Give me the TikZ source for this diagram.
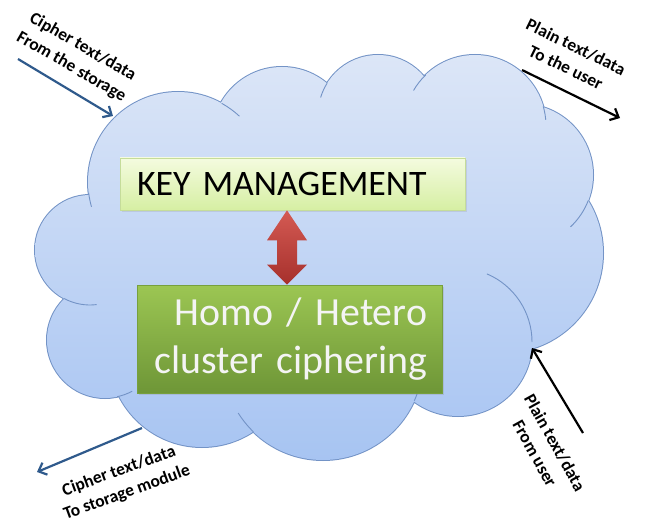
\documentclass[tikz,border=0pt]{standalone}
\usepackage{fontspec}
\setmainfont{Carlito}
\usetikzlibrary{arrows.meta,calc,shadows}
\definecolor{cloudtop}{HTML}{DCE6F7}
\definecolor{cloudbot}{HTML}{A7C4F2}
\definecolor{cloudln}{HTML}{7393C6}
\definecolor{kmtop}{HTML}{F4FBDF}
\definecolor{kmbot}{HTML}{D6EFA3}
\definecolor{kmline}{HTML}{C5DC9A}
\definecolor{hhtop}{HTML}{9CC653}
\definecolor{hhbot}{HTML}{6E9637}
\definecolor{hhtext}{HTML}{F4F4F4}
\definecolor{redtop}{HTML}{D45A53}
\definecolor{redbot}{HTML}{A6302C}
\definecolor{flowblue}{HTML}{2F5A8C}
\begin{document}
\begin{tikzpicture}[x=1bp,y=-1bp,
  cloudedge/.style={draw=cloudln, line width=0.9bp},
  kmbox/.style={draw=kmline, line width=0.6bp, top color=kmtop, bottom color=kmbot,
    minimum height=52bp, text width=311bp, inner xsep=17bp, inner ysep=0pt, align=left,
    font=\fontsize{36}{40}\selectfont,
    drop shadow={opacity=0.18, shadow xshift=2bp, shadow yshift=-2bp}},
  hhbox/.style={draw=hhbot!80!hhtop, line width=0.6bp, top color=hhtop, bottom color=hhbot,
    minimum height=108bp, text width=275bp, inner xsep=15bp, inner ysep=0pt, align=right,
    text=hhtext, font=\fontsize{40}{48}\selectfont,
    drop shadow={opacity=0.22, shadow xshift=2bp, shadow yshift=-2bp}},
  redarrow/.style={top color=redtop, bottom color=redbot},
  flow/.style={line width=2.2bp, -{Straight Barb[length=7bp, width=13bp]}},
  lbl/.style={font=\bfseries\fontsize{17.5}{23}\selectfont, align=center, inner sep=0pt}
]
\useasboundingbox (0,0) rectangle (645,523);
% cloud outline (outer half visible)
\draw[draw=cloudln, line width=2bp]
  (178,182) circle[radius=90] (282,137) circle[radius=70] (378,115) circle[radius=60]
  (475,126) circle[radius=71] (522,175) circle[radius=71] (503,253) circle[radius=100]
  (458,342) circle[radius=74] (323,360) circle[radius=100] (202,354) circle[radius=93]
  (105,340) circle[radius=58] (90,250) circle[radius=55];
\shade[top color=cloudtop, bottom color=cloudbot]
  (178,182) circle[radius=90] (282,137) circle[radius=70] (378,115) circle[radius=60]
  (475,126) circle[radius=71] (522,175) circle[radius=71] (503,253) circle[radius=100]
  (458,342) circle[radius=74] (323,360) circle[radius=100] (202,354) circle[radius=93]
  (105,340) circle[radius=58] (90,250) circle[radius=55]
  (320,250) ellipse[x radius=230, y radius=150];
% inner strokes of the cloud
\draw[cloudedge] (178,182) ++(-61:90) arc[start angle=-61, end angle=-47, radius=90];
\draw[cloudedge] (178,182) ++(173:90) arc[start angle=173, end angle=164, radius=90];
\draw[cloudedge] (378,115) ++(-148:60) arc[start angle=-148, end angle=-163, radius=60];
\draw[cloudedge] (475,126) ++(-134:71) arc[start angle=-134, end angle=-150, radius=71];
\draw[cloudedge] (475,126) ++(-16:71) arc[start angle=-16, end angle=-5, radius=71];
\draw[cloudedge] (522,175) ++(21:71) arc[start angle=21, end angle=47, radius=71];
\draw[cloudedge] (458,342) ++(0:74) arc[start angle=0, end angle=-67, radius=74];
\draw[cloudedge] (323,360) ++(24:100) arc[start angle=24, end angle=15, radius=100];
\draw[cloudedge] (323,360) ++(134:100) arc[start angle=134, end angle=148, radius=100];
\draw[cloudedge] (105,340) ++(78:58) arc[start angle=78, end angle=62, radius=58];
\draw[cloudedge] (90,250) ++(118:55) arc[start angle=118, end angle=83, radius=55];
% boxes
\node[kmbox] (km) at (292.5,184) {KEY MANAGEMENT};
\node[hhbox] (hh) at (289.5,339) {Homo / Hetero\\cluster ciphering};
% red double arrow
\coordinate (ra) at ($(km.south)+(-5.5,0)$);
\coordinate (rb) at ($(hh.north)+(-2.5,0)$);
\shade[redarrow] (ra) -- ++(20,30) -- ++(-10,0) -- ($(rb)+(10,-20)$) -- ++(10,0) -- (rb)
  -- ++(-20,-20) -- ++(10,0) -- ($(ra)+(-10,30)$) -- ++(-10,0) -- cycle;
% flow arrows
\coordinate (tlA) at (18,59);   \coordinate (tlB) at (113,116);
\coordinate (trA) at (522,70);  \coordinate (trB) at (620,118);
\coordinate (brA) at (583,433); \coordinate (brB) at (532,348);
\coordinate (blA) at (142,428); \coordinate (blB) at (37,472);
\draw[flow, flowblue] (tlA) -- (tlB);
\draw[flow, black] (trA) -- (trB);
\draw[flow, black] (brA) -- (brB);
\draw[flow, flowblue] (blA) -- (blB);
% labels
\node[lbl, rotate=-30] (tlL) at (77,57) {Cipher text/data\\From the storage};
\node[lbl, rotate=-26] (trL) at (571,57) {Plain text/data\\To the user};
\node[lbl, rotate=-61] (brL) at (545,448) {Plain text/data\\From user};
\node[lbl, rotate=20] (blL) at (123,482) {Cipher text/data\\To storage module};
\end{tikzpicture}
\end{document}
